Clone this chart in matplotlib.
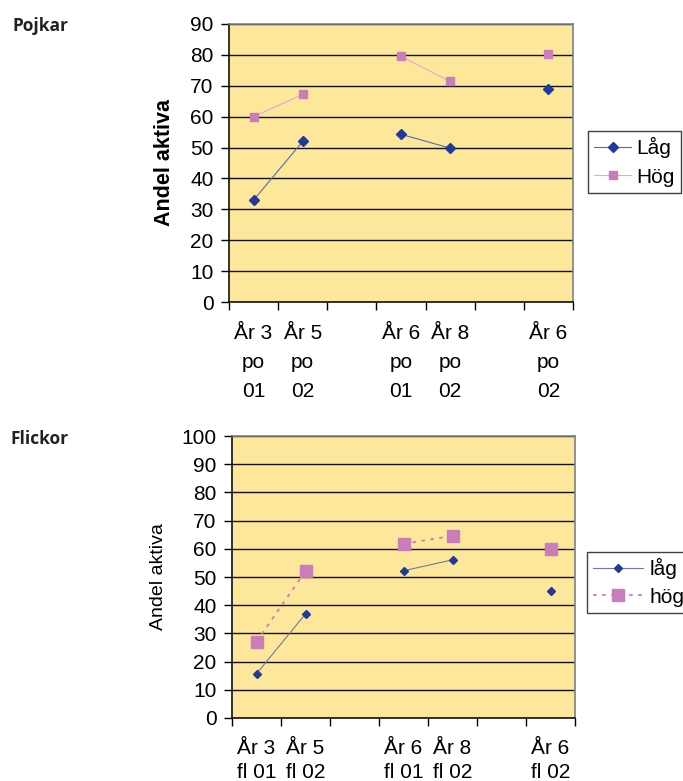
import numpy as np
import matplotlib
matplotlib.use("Agg")
import matplotlib.pyplot as plt

plt.rcParams["font.family"] = ["Liberation Sans", "DejaVu Sans"]

# %% DATA
boys_labels = ["År 3\npo\n01", "År 5\npo\n02", "", "År 6\npo\n01", "År 8\npo\n02", "", "År 6\npo\n02"]
boys_low = [33, 52, np.nan, 54.3, 49.8, np.nan, 69.1]
boys_high = [60, 67.2, np.nan, 79.5, 71.4, np.nan, 80.2]

girls_labels = ["År 3\nfl 01", "År 5\nfl 02", "", "År 6\nfl 01", "År 8\nfl 02", "", "År 6\nfl 02"]
girls_low = [15.7, 36.9, np.nan, 52.2, 56.1, np.nan, 45.1]
girls_high = [27.1, 52.1, np.nan, 61.8, 64.6, np.nan, 60.0]

bg = "#FDE79A"
navy = "#21399A"
pink = "#C97DBA"
fs = 15


def style_axes(ax, labels, ymax, linespacing, xpad):
    n = len(labels)
    ax.set_facecolor(bg)
    ax.set_xlim(0, n)
    ax.set_ylim(0, ymax)
    ax.set_yticks(np.arange(0, ymax + 1, 10))
    ax.yaxis.grid(True, color="#111111", lw=1.0)
    ax.set_axisbelow(True)
    ax.set_xticks(np.arange(0, n + 1))
    ax.set_xticklabels([])
    ax.set_xticks(np.arange(n) + 0.5, minor=True)
    ax.set_xticklabels(labels, minor=True, fontsize=fs, linespacing=linespacing)
    ax.tick_params(axis="x", which="minor", length=0, pad=xpad)
    ax.tick_params(axis="x", which="major", length=6, width=1)
    ax.tick_params(axis="y", length=6, width=1, labelsize=fs, pad=5)
    for s in ["top", "right"]:
        ax.spines[s].set_color("#808080")
    for s in ["left", "bottom"]:
        ax.spines[s].set_color("#111111")
    for s in ax.spines.values():
        s.set_linewidth(1.2)


fig = plt.figure(figsize=(6.83, 7.81), dpi=100)

# %% POJKAR
ax1 = fig.add_axes([0.3353, 0.6133, 0.5037, 0.356])
x = np.arange(len(boys_labels)) + 0.5
ax1.plot(x, boys_low, color="#5A6CAA", lw=0.8, marker="D", ms=5,
         mfc=navy, mec=navy, label="Låg")
ax1.plot(x, boys_high, color="#E3A6D2", lw=0.8, marker="s", ms=5.5,
         mfc=pink, mec=pink, label="Hög")
style_axes(ax1, boys_labels, 90, 1.67, 16)
ax1.set_ylabel("Andel aktiva", fontsize=15.5, fontweight="bold")
ax1.yaxis.set_label_coords(-0.158, 0.5)
leg1 = ax1.legend(loc="upper left", bbox_to_anchor=(0.861, 0.8323),
                  bbox_transform=fig.transFigure, fontsize=fs, frameon=True,
                  fancybox=False, edgecolor="#111111", handlelength=1.75,
                  handletextpad=0.25, borderpad=0.3, labelspacing=0.45,
                  borderaxespad=0)
leg1.get_frame().set_linewidth(1.0)
fig.text(0.018, 0.967, "Pojkar", fontsize=12.5, fontweight="bold",
         family=["Open Sans", "DejaVu Sans"], color="#222222", va="center")

# %% FLICKOR
ax2 = fig.add_axes([0.3397, 0.0807, 0.5022, 0.361])
x = np.arange(len(girls_labels)) + 0.5
ax2.plot(x, girls_low, color="#6E7A9E", lw=0.8, marker="D", ms=4.5,
         mfc=navy, mec=navy, label="låg")
ax2.plot(x, girls_high, color=pink, lw=1.3, ls=(0, (2, 3)), marker="s",
         ms=9, mfc=pink, mec=pink, label="hög")
style_axes(ax2, girls_labels, 100, 1.32, 15)
ax2.set_ylabel("Andel aktiva", fontsize=14)
ax2.yaxis.set_label_coords(-0.191, 0.5)
leg2 = ax2.legend(loc="upper left", bbox_to_anchor=(0.859, 0.2932),
                  bbox_transform=fig.transFigure, fontsize=fs, frameon=True,
                  fancybox=False, edgecolor="#111111", handlelength=2.4,
                  handletextpad=0.3, borderpad=0.3, labelspacing=0.4,
                  borderaxespad=0)
leg2.get_frame().set_linewidth(1.0)
fig.text(0.015, 0.438, "Flickor", fontsize=12.5, fontweight="bold",
         family=["Open Sans", "DejaVu Sans"], color="#222222", va="center")

fig.savefig("out.png", dpi=100)
